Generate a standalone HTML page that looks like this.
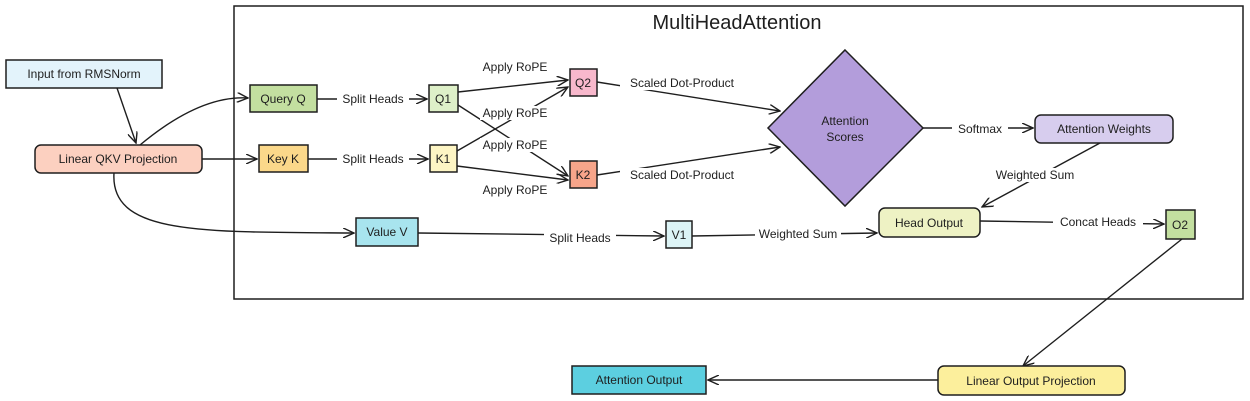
<!DOCTYPE html>
<html><head><meta charset="utf-8"><style>
html,body{margin:0;padding:0;background:#fff}
svg{display:block}
text{font-family:"Liberation Sans",sans-serif;font-size:12px;fill:#1e1e1e}
.n{stroke:#1e1e1e;stroke-width:1.5}
.e{stroke:#1e1e1e;stroke-width:1.4;fill:none}
</style></head><body>
<svg width="1250" height="401" viewBox="0 0 1250 401">
<defs><marker id="a" markerWidth="12" markerHeight="10" refX="11" refY="5" orient="auto" markerUnits="userSpaceOnUse"><path d="M0,0 L11,5 L0,10" fill="none" stroke="#1e1e1e" stroke-width="1.4"/></marker></defs>
<rect x="234" y="6" width="1009" height="293" fill="none" stroke="#1e1e1e" stroke-width="1.5"/>
<text x="737" y="29" text-anchor="middle" style="font-size:20px">MultiHeadAttention</text>

<!-- edges -->
<path class="e" d="M117,88 L136,143" marker-end="url(#a)"/>
<path class="e" d="M140,145 Q200,95 248,98" marker-end="url(#a)"/>
<path class="e" d="M202,159 L257,159" marker-end="url(#a)"/>
<path class="e" d="M114,173 C110,235 200,232 354,233" marker-end="url(#a)"/>
<path class="e" d="M317,99 L427,99" marker-end="url(#a)"/>
<path class="e" d="M308,159 L428,159" marker-end="url(#a)"/>
<path class="e" d="M458,92 L568,80" marker-end="url(#a)"/>
<path class="e" d="M458,105 L568,176" marker-end="url(#a)"/>
<path class="e" d="M457,151 L568,87" marker-end="url(#a)"/>
<path class="e" d="M457,166 L568,180" marker-end="url(#a)"/>
<path class="e" d="M597,82 L780,111" marker-end="url(#a)"/>
<path class="e" d="M597,175 L780,147" marker-end="url(#a)"/>
<path class="e" d="M923,128 L1033,128" marker-end="url(#a)"/>
<path class="e" d="M1100,143 L982,207" marker-end="url(#a)"/>
<path class="e" d="M418,233 L664,236" marker-end="url(#a)"/>
<path class="e" d="M692,236 L877,233" marker-end="url(#a)"/>
<path class="e" d="M980,221 L1164,224" marker-end="url(#a)"/>
<path class="e" d="M1182,239 L1023,366" marker-end="url(#a)"/>
<path class="e" d="M938,380 L708,380" marker-end="url(#a)"/>

<!-- edge labels -->
<g>
<rect x="337" y="92" width="72" height="14" fill="#fff"/><text x="373" y="103" text-anchor="middle">Split Heads</text>
<rect x="337" y="152" width="72" height="14" fill="#fff"/><text x="373" y="163" text-anchor="middle">Split Heads</text>
<rect x="480" y="60" width="70" height="14" fill="#fff"/><text x="515" y="71" text-anchor="middle">Apply RoPE</text>
<rect x="480" y="106" width="70" height="14" fill="#fff"/><text x="515" y="117" text-anchor="middle">Apply RoPE</text>
<rect x="480" y="138" width="70" height="14" fill="#fff"/><text x="515" y="149" text-anchor="middle">Apply RoPE</text>
<rect x="480" y="183" width="70" height="14" fill="#fff"/><text x="515" y="194" text-anchor="middle">Apply RoPE</text>
<rect x="620" y="76" width="126" height="14" fill="#fff"/><text x="682" y="87" text-anchor="middle">Scaled Dot-Product</text>
<rect x="620" y="168" width="126" height="14" fill="#fff"/><text x="682" y="179" text-anchor="middle">Scaled Dot-Product</text>
<rect x="952" y="122" width="56" height="14" fill="#fff"/><text x="980" y="133" text-anchor="middle">Softmax</text>
<rect x="992" y="168" width="86" height="14" fill="#fff"/><text x="1035" y="179" text-anchor="middle">Weighted Sum</text>
<rect x="544" y="231" width="72" height="14" fill="#fff"/><text x="580" y="242" text-anchor="middle">Split Heads</text>
<rect x="755" y="227" width="86" height="14" fill="#fff"/><text x="798" y="238" text-anchor="middle">Weighted Sum</text>
<rect x="1053" y="215" width="90" height="14" fill="#fff"/><text x="1098" y="226" text-anchor="middle">Concat Heads</text>
</g>

<!-- nodes -->
<rect class="n" x="6" y="60" width="156" height="28" fill="#e3f3fb"/><text x="84" y="78" text-anchor="middle">Input from RMSNorm</text>
<rect class="n" x="35" y="145" width="167" height="28" rx="6" fill="#fcd0c0"/><text x="118" y="163" text-anchor="middle">Linear QKV Projection</text>
<rect class="n" x="250" y="85" width="67" height="27" fill="#c3dfa0"/><text x="283" y="103" text-anchor="middle">Query Q</text>
<rect class="n" x="259" y="145" width="49" height="27" fill="#fbd88a"/><text x="283" y="163" text-anchor="middle">Key K</text>
<rect class="n" x="429" y="85" width="29" height="27" fill="#def0c8"/><text x="443" y="103" text-anchor="middle">Q1</text>
<rect class="n" x="430" y="145" width="27" height="27" fill="#fdf5c4"/><text x="443" y="163" text-anchor="middle">K1</text>
<rect class="n" x="570" y="69" width="27" height="27" fill="#f8b8cc"/><text x="583" y="87" text-anchor="middle">Q2</text>
<rect class="n" x="570" y="161" width="27" height="27" fill="#f7a58a"/><text x="583" y="179" text-anchor="middle">K2</text>
<polygon class="n" points="845,50 923,128 845,206 768,128" fill="#b39ddb"/>
<text x="845" y="125" text-anchor="middle">Attention</text><text x="845" y="141" text-anchor="middle">Scores</text>
<rect class="n" x="1035" y="115" width="138" height="28" rx="6" fill="#d7cdee"/><text x="1104" y="133" text-anchor="middle">Attention Weights</text>
<rect class="n" x="879" y="208" width="101" height="29" rx="6" fill="#eef2c4"/><text x="929" y="227" text-anchor="middle">Head Output</text>
<rect class="n" x="1166" y="210" width="29" height="29" fill="#c3dfa0"/><text x="1180" y="229" text-anchor="middle">O2</text>
<rect class="n" x="356" y="218" width="62" height="28" fill="#a8e4ee"/><text x="387" y="236" text-anchor="middle">Value V</text>
<rect class="n" x="666" y="221" width="26" height="27" fill="#ddf4f6"/><text x="679" y="239" text-anchor="middle">V1</text>
<rect class="n" x="938" y="366" width="187" height="29" rx="6" fill="#fcef9c"/><text x="1031" y="385" text-anchor="middle">Linear Output Projection</text>
<rect class="n" x="572" y="366" width="134" height="28" fill="#5ccfe0"/><text x="639" y="384" text-anchor="middle">Attention Output</text>
</svg>
</body></html>
